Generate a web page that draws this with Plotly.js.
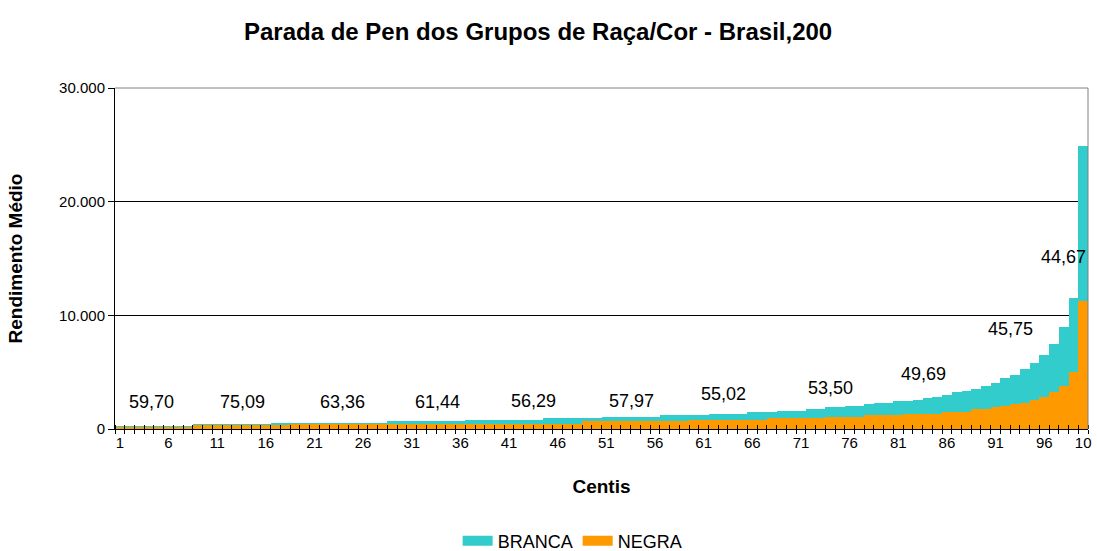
<!DOCTYPE html>
<html>
<head>
<meta charset="utf-8">
<script src="https://cdn.plot.ly/plotly-3.0.1.min.js"></script>
<style>html,body{margin:0;padding:0;background:#fff;}#chart{width:1097px;height:551px;}</style>
</head>
<body>
<div id="chart"></div>
<script>
var centis = [1,2,3,4,5,6,7,8,9,10,11,12,13,14,15,16,17,18,19,20,21,22,23,24,25,26,27,28,29,30,31,32,33,34,35,36,37,38,39,40,41,42,43,44,45,46,47,48,49,50,51,52,53,54,55,56,57,58,59,60,61,62,63,64,65,66,67,68,69,70,71,72,73,74,75,76,77,78,79,80,81,82,83,84,85,86,87,88,89,90,91,92,93,94,95,96,97,98,99,100];

var branca = [280,300,300,300,300,300,300,300,440,440,
              440,440,440,440,440,440,530,530,530,530,
              530,530,530,530,530,530,530,530,700,700,
              700,700,700,700,700,700,790,790,790,790,
              790,790,790,790,960,960,960,960,960,960,
              1060,1060,1060,1060,1060,1060,1230,1230,1230,1230,
              1230,1330,1330,1330,1330,1500,1500,1500,1600,1600,
              1600,1760,1760,1940,1940,2050,2050,2200,2320,2320,
              2460,2460,2550,2700,2800,3000,3260,3360,3540,3780,
              4050,4500,4750,5300,5820,6510,7480,8960,11520,24900];

var negra = [150,220,220,220,220,220,220,220,330,330,
             330,330,330,330,330,330,330,330,410,410,
             410,410,410,410,410,410,410,410,410,410,
             410,480,480,480,480,480,480,480,480,480,
             480,480,480,480,480,480,480,480,690,690,
             690,690,690,690,690,690,690,690,690,820,
             820,820,820,820,820,820,820,1000,1000,1000,
             1000,1000,1000,1060,1060,1060,1060,1230,1230,1230,
             1230,1360,1360,1360,1360,1540,1540,1540,1740,1740,
             1930,2020,2170,2260,2550,2820,3270,3810,5030,11260];

var xTickVals = [1,6,11,16,21,26,31,36,41,46,51,56,61,66,71,76,81,86,91,96,100];
var xTickText = ['1','6','11','16','21','26','31','36','41','46','51','56','61','66','71','76','81','86','91','96','10'];

var yTickVals = [0,10000,20000,30000];

var ratioLabels = ['59,70','75,09','63,36','61,44','56,29','57,97','55,02','53,50','49,69','45,75','44,67'];
var ratioPosX = [4.3,13.6,23.9,33.6,43.5,53.6,63.0,74.0,83.6,92.5,98.0];
var ratioPosY = [2400,2400,2400,2400,2450,2500,3100,3600,4850,8800,15150];

var traces = [
  {type:'bar', name:'BRANCA', x:centis, y:branca, width:1, marker:{color:'#33CCCC', line:{width:0}}, showlegend:false, hoverinfo:'skip'},
  {type:'bar', name:'NEGRA', x:centis, y:negra, width:1, marker:{color:'#FF9900', line:{width:0}}, showlegend:false, hoverinfo:'skip'},
  {type:'scatter', mode:'lines', name:'BRANCA', x:[null], y:[null], xaxis:'x2', line:{color:'#33CCCC', width:12}, hoverinfo:'skip'},
  {type:'scatter', mode:'lines', name:'NEGRA', x:[null], y:[null], xaxis:'x2', line:{color:'#FF9900', width:12}, hoverinfo:'skip'}
];

var annotations = ratioLabels.map(function(t,i){
  return {text:t, x:ratioPosX[i], y:ratioPosY[i], xref:'x', yref:'y', showarrow:false,
          xanchor:'center', yanchor:'middle', font:{family:'Liberation Sans, Arial, sans-serif', size:18, color:'#000'}};
});

var layout = {
  width:1097, height:551,
  margin:{l:115, r:9, t:88, b:122, pad:0},
  paper_bgcolor:'#fff', plot_bgcolor:'#fff',
  separators:',.',
  barmode:'overlay', bargap:0,
  hovermode:false,
  font:{family:'Liberation Sans, Arial, sans-serif', color:'#000'},
  title:{text:'<b>Parada de Pen dos Grupos de Raça/Cor - Brasil,200</b>', xref:'container', yref:'container',
         x:0.4905, xanchor:'center', y:0.942, yanchor:'middle',
         font:{family:'Liberation Sans, Arial, sans-serif', size:24, color:'#000'}},
  xaxis:{type:'linear', range:[0.5,100.5], fixedrange:true,
         tickmode:'array', tickvals:xTickVals, ticktext:xTickText, ticks:'',
         tickfont:{size:15, color:'#000'},
         showgrid:false, zeroline:false, showline:true, linecolor:'#000', linewidth:1,
         minor:{tickmode:'linear', tick0:0.5, dtick:1, ticks:'outside', ticklen:4, tickwidth:1, tickcolor:'#000', showgrid:false},
         title:{text:'<b>Centis</b>', font:{size:19, color:'#000'}, standoff:29}},
  xaxis2:{type:'linear', overlaying:'x', anchor:'y', side:'bottom', range:[0.5,100.5], fixedrange:true,
          showticklabels:false, ticks:'', showgrid:false, zeroline:false, showline:false,
          minor:{tickmode:'linear', tick0:0.5, dtick:1, ticks:'inside', ticklen:4, tickwidth:1, tickcolor:'#000', showgrid:false}},
  yaxis:{range:[0,30000], fixedrange:true, tickmode:'array', tickvals:yTickVals, tickformat:',d',
         ticks:'outside', ticklen:6, tickwidth:1, tickcolor:'#000',
         tickfont:{size:15, color:'#000'},
         showgrid:true, gridcolor:'#000', gridwidth:1, zeroline:false,
         showline:true, linecolor:'#000', linewidth:1,
         title:{text:'<b>Rendimento Médio</b>', font:{size:19, color:'#000'}, standoff:31}},
  legend:{orientation:'h', xref:'container', yref:'container', x:0.522, xanchor:'center', y:0.018, yanchor:'middle',
          font:{size:18, color:'#000'}, itemwidth:30, tracegroupgap:0, bgcolor:'rgba(0,0,0,0)'},
  shapes:[
    {type:'line', xref:'paper', yref:'paper', x0:0, x1:1, y0:1, y1:1, line:{color:'#808080', width:1}, layer:'above'},
    {type:'line', xref:'paper', yref:'paper', x0:1, x1:1, y0:0, y1:1, line:{color:'#808080', width:1}, layer:'above'}
  ],
  annotations:annotations
};

Plotly.newPlot('chart', traces, layout, {displayModeBar:false, staticPlot:true});
</script>
</body>
</html>
